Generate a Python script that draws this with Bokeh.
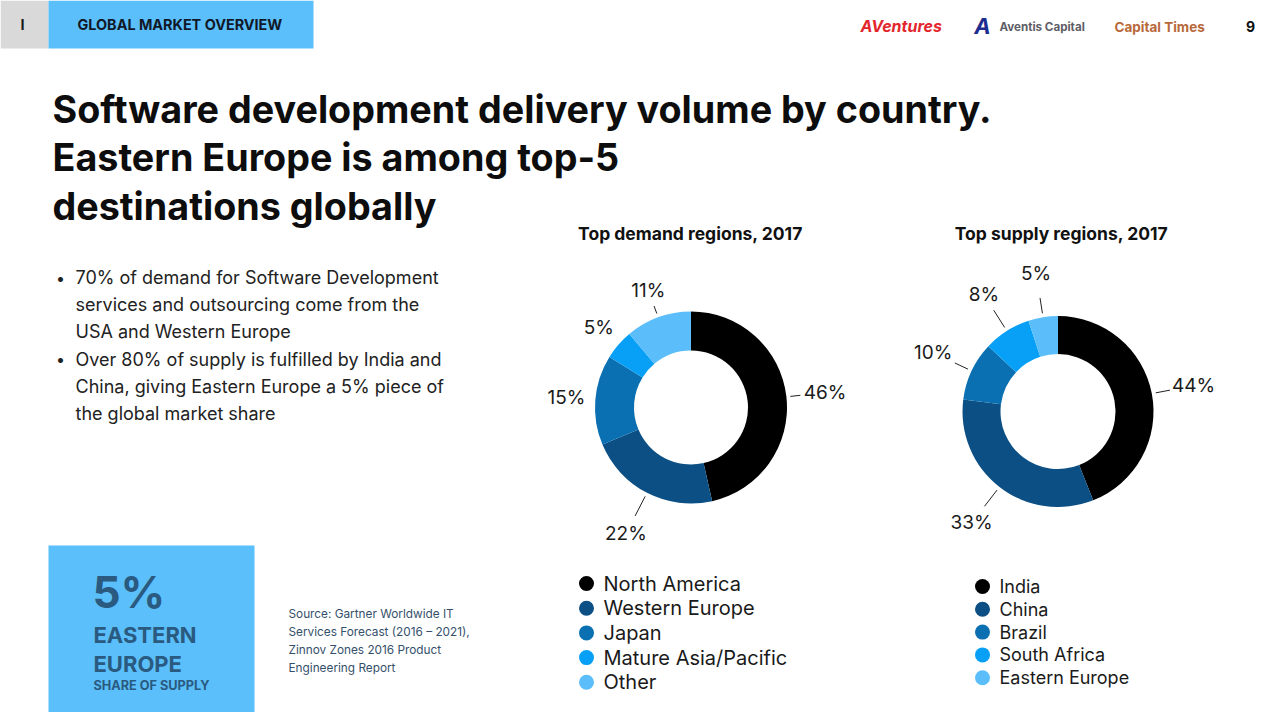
import math
from bokeh.plotting import figure
from bokeh.models import Range1d
from bokeh.core.properties import value
from bokeh.embed import file_html
from bokeh.resources import INLINE

# ---------------- data ----------------
demand_labels = ["North America", "Western Europe", "Japan", "Mature Asia/Pacific", "Other"]
demand_values = [46, 22, 15, 5, 11]
supply_labels = ["India", "China", "Brazil", "South Africa", "Eastern Europe"]
supply_values = [44, 33, 10, 8, 5]
slice_colors = ["#000000", "#0b4f84", "#0a70b2", "#07a0f6", "#5bbefa"]

title_lines = ["Software development delivery volume by country.",
               "Eastern Europe is among top-5",
               "destinations globally"]
bullet_1 = ["70% of demand for Software Development",
            "services and outsourcing come from the",
            "USA and Western Europe"]
bullet_2 = ["Over 80% of supply is fulfilled by India and",
            "China, giving Eastern Europe a 5% piece of",
            "the global market share"]
source_lines = ["Source: Gartner Worldwide IT",
                "Services Forecast (2016 \u2013 2021),",
                "Zinnov Zones 2016 Product",
                "Engineering Report"]

# ---------------- style / layout ----------------
FONT = "Inter"
W, H = 1272, 712
DARK = "#141414"
BOXBLUE = "#5bbffb"
NAVY_TXT = "#2a5a80"

p = figure(width=W, height=H, output_backend="svg", toolbar_location=None,
           x_range=Range1d(0, W), y_range=Range1d(-H, 0),
           min_border=0, outline_line_color=None)
p.axis.visible = False
p.grid.visible = False
p.background_fill_color = "white"
p.border_fill_color = "white"


def txt(x, y, t, size, color=DARK, style="normal", align="left", baseline="middle", font=FONT):
    p.text(x=[x], y=[-y], text=[t], text_font=value(font), text_font_size=f"{size}px",
           text_color=color, text_font_style=style, text_align=align, text_baseline=baseline)


# header
p.quad(left=[0], right=[48], top=[0], bottom=[-48], color="#d9d9d9", line_color=None)
p.quad(left=[48], right=[313], top=[0], bottom=[-48], color=BOXBLUE, line_color=None)
txt(22, 24, "I", 14.5, "#1a1a1a", "bold", "center")
txt(77, 24, "GLOBAL MARKET OVERVIEW", 14.4, "#111827", "bold")

# logos
txt(860, 25, "AVentures", 16, "#e3262d", "bold italic")
txt(982, 25, "A", 22, "#1c2d8f", "bold italic", "center")
txt(999, 26, "Aventis Capital", 11.6, "#5d5d66", "bold")
txt(1114, 26, "Capital Times", 13.5, "#b8693b", "bold")
txt(1250, 26, "9", 14, "#111111", "bold", "center")

# title
for i, t in enumerate(title_lines):
    txt(52, 108 + i * 48.5, t, 37.7, "#0d0d0d", "bold")

# bullets
y0 = 277
row = 27.2
for k, lines in enumerate([bullet_1, bullet_2]):
    base = y0 + k * 3 * row
    txt(60, base, "\u2022", 16, "#222222", "normal", "center")
    for j, t in enumerate(lines):
        txt(75, base + j * row, t, 18, "#222222")

# bottom-left highlight box
p.quad(left=[48], right=[254], top=[-545], bottom=[-712], color=BOXBLUE, line_color=None)
txt(92, 591, "5%", 44, NAVY_TXT, "bold")
txt(93, 634, "EASTERN", 22, NAVY_TXT, "bold")
txt(93, 663, "EUROPE", 22, NAVY_TXT, "bold")
txt(93, 685, "SHARE OF SUPPLY", 12.7, NAVY_TXT, "bold")

for i, t in enumerate(source_lines):
    txt(288, 613 + i * 18, t, 11.8, "#34506b")


# donuts
def donut(cx, cy, values, r_in, r_out, label_r, line_r, title, title_x):
    total = float(sum(values))
    starts, ends, mids = [], [], []
    cum = 0.0
    for v in values:
        s = math.pi / 2 - cum / total * 2 * math.pi
        cum += v
        e = math.pi / 2 - cum / total * 2 * math.pi
        starts.append(s)
        ends.append(e)
        mids.append((s + e) / 2)
    p.annular_wedge(x=cx, y=-cy, inner_radius=r_in, outer_radius=r_out,
                    start_angle=starts, end_angle=ends, direction="clock",
                    fill_color=slice_colors, line_color=None)
    lx = [cx + r * math.cos(m) for r, m in zip(label_r, mids)]
    ly = [-cy + r * math.sin(m) for r, m in zip(label_r, mids)]
    p.text(x=lx, y=ly, text=[f"{v}%" for v in values], text_font=value(FONT),
           text_font_size="19px", text_color="#1a1a1a", text_align="center",
           text_baseline="middle")
    sx0, sy0, sx1, sy1 = [], [], [], []
    for m, lr in zip(mids, line_r):
        if lr is None:
            continue
        sx0.append(cx + (r_out + 4) * math.cos(m))
        sy0.append(-cy + (r_out + 4) * math.sin(m))
        sx1.append(cx + lr * math.cos(m))
        sy1.append(-cy + lr * math.sin(m))
    p.segment(x0=sx0, y0=sy0, x1=sx1, y1=sy1, line_color="#222222", line_width=1)
    txt(title_x, 233, title, 17.5, "#111111", "bold", "center")


donut(690.5, 407, demand_values, 57, 96, [135, 142, 125, 122, 125],
      [110, 122, None, None, 108], "Top demand regions, 2017", 690)
donut(1057.5, 411, supply_values, 57.5, 95.5, [138, 141, 138, 138, 140],
      [114, 120, 114, 120, 115], "Top supply regions, 2017", 1061)


# legends
def legend(x, ytop, step, labels, size, dot):
    ys = [-(ytop + i * step) for i in range(len(labels))]
    p.scatter(x=[x] * len(labels), y=ys, size=dot, fill_color=slice_colors, line_color=None)
    p.text(x=[x + 17] * len(labels), y=ys, text=labels, text_font=value(FONT),
           text_font_size=f"{size}px", text_color="#1a1a1a", text_align="left",
           text_baseline="middle")


legend(586, 583, 24.7, demand_labels, 20, 15)
legend(982, 586, 22.8, supply_labels, 18, 15)

open("out.html", "w").write(file_html(p, INLINE))
